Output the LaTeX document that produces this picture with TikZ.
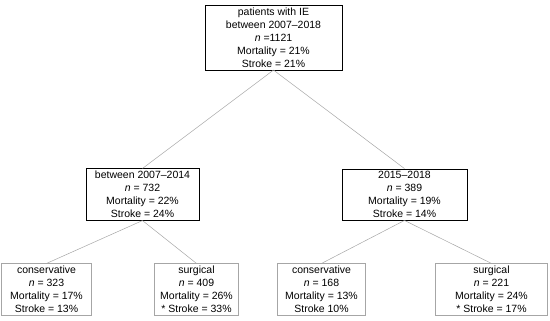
\documentclass[tikz,border=0pt]{standalone}
\usepackage{fontspec}
\setmainfont{Liberation Sans}
\usetikzlibrary{trees}

\begin{document}
\begin{tikzpicture}[level 1/.style={level distance=157pt, sibling distance=262pt},
                    level 2/.style={level distance=95pt, sibling distance=150pt},
                    every node/.style={draw, align=center, font=\fontsize{10.5}{13}\selectfont, inner xsep=0pt, inner ysep=2.5pt},
                    edge from parent/.style={draw, gray!70, line width=0.5pt},
                    parent anchor=south, child anchor=north]
    \useasboundingbox (0,0) rectangle (550pt,-321pt);
    \node (all) [minimum width=137pt] at (273.5pt,-37.5pt) {patients with IE\\between 2007--2018\\\textit{n} =1121\\Mortality = 21\%\\Stroke = 21\%}
      child { node (early) [minimum width=113pt] {between 2007--2014\\\textit{n} = 732\\Mortality = 22\%\\Stroke = 24\%}
        child[xshift=-21pt] { node (earlycons) [minimum width=90pt] {conservative\\\textit{n} = 323\\Mortality = 17\%\\Stroke = 13\%}}
        child[xshift=-21pt] { node (earlysurg) [minimum width=84pt] {surgical\\\textit{n} = 409\\Mortality = 26\%\\* Stroke = 33\%}} }
      child { node (late) [minimum width=125pt] {2015--2018\\\textit{n} = 389\\Mortality = 19\%\\Stroke = 14\%}
        child[xshift=-8pt] { node (latecons) [minimum width=88pt] {conservative\\\textit{n} = 168\\Mortality = 13\%\\Stroke 10\%}}
        child[xshift=12pt] { node (latesurg) [minimum width=112pt] {surgical\\\textit{n} = 221\\Mortality = 24\%\\* Stroke = 17\%}} };
  \end{tikzpicture}
\end{document}
